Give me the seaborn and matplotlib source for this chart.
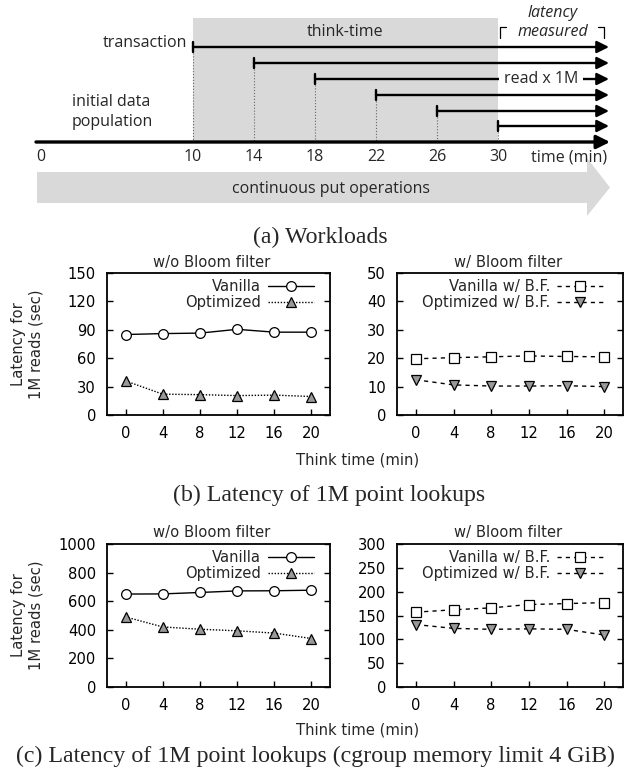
import matplotlib
matplotlib.use("Agg")
import matplotlib.pyplot as plt
from matplotlib.patches import Rectangle
import seaborn as sns
import pandas as pd

# ---- data ----
think_time = [0, 4, 8, 12, 16, 20]

# (b) latency of 1M point lookups (sec)
b_vanilla = [85, 86, 86.5, 90.5, 87.5, 87.5]
b_optimized = [36, 22, 21.5, 20.5, 21, 19.5]
b_vanilla_bf = [19.8, 20.2, 20.5, 20.8, 20.6, 20.5]
b_optimized_bf = [12.4, 10.6, 10.2, 10.2, 10.3, 10.0]

# (c) same, cgroup memory limit 4 GiB
c_vanilla = [650, 651, 661, 672, 673, 677]
c_optimized = [490, 420, 404, 393, 377, 339]
c_vanilla_bf = [157, 162, 166, 173, 175, 177]
c_optimized_bf = [131, 123, 121, 122, 121, 109]

# workload timeline (min)
txn_starts = [10, 14, 18, 22, 26, 30]
time_ticks = [0, 10, 14, 18, 22, 26, 30]

sns.set_theme(style="ticks")
plt.rcParams['font.family'] = ['DejaVu Sans']

W, H = 635, 775
FS = 10.6
DIAG_FONT = ['Open Sans', 'DejaVu Sans']
CAP_FONT = ['Liberation Serif', 'DejaVu Serif']
CAP_FS = 17.2


def fx(px):
    return px / W


def fy(py):
    return 1 - py / H


def box(l, t, r, b):
    return [l / W, 1 - b / H, (r - l) / W, (b - t) / H]


fig = plt.figure(figsize=(W / 100, H / 100), dpi=100)

# ================= (a) workloads diagram =================
X0, PPM = 40.5, 15.25  # pixel of t=0, pixels per minute
TIP = 609


def tm(px):
    return (px - X0) / PPM


ax0 = fig.add_axes([0, 1 - 225 / H, 1, 225 / H])
ax0.set_xlim(tm(0), tm(W))
ax0.set_ylim(225, 0)
ax0.axis('off')

# think-time shading
ax0.add_patch(Rectangle((txn_starts[0], 18), txn_starts[-1] - txn_starts[0], 124,
                        fc='#d9d9d9', ec='none', zorder=0))

# continuous put operations arrow
ax0.fill([tm(37), tm(587), tm(587), tm(610), tm(587), tm(587), tm(37)],
         [172, 172, 158, 187.5, 216, 203, 203], color='#d9d9d9', lw=0, zorder=0)
ax0.text(tm(331), 189, 'continuous put operations', ha='center', va='center',
         family=DIAG_FONT, fontsize=11.5)

# main time axis
ax0.annotate('', xy=(tm(TIP + 1), 142), xytext=(tm(36), 142),
             arrowprops=dict(arrowstyle='-|>', lw=2.4, color='black',
                             mutation_scale=20, shrinkA=0, shrinkB=0))
for t in time_ticks:
    ax0.text(t, 157, str(t), ha='center', va='center', family=DIAG_FONT, fontsize=11.5)
ax0.text(tm(531), 157, 'time (min)', ha='left', va='center', family=DIAG_FONT, fontsize=11.5)

# transactions
row_y = [47, 63, 79, 95, 111, 126]
for s, y in zip(txn_starts, row_y):
    ax0.plot([s, s], [y, 142], color='#666666', lw=0.8, ls=':', zorder=1)
    ax0.annotate('', xy=(tm(TIP), y), xytext=(s, y),
                 arrowprops=dict(arrowstyle='-|>', lw=1.7, color='black',
                                 mutation_scale=18, shrinkA=0, shrinkB=0), zorder=2)
    ax0.plot([s, s], [y - 5, y + 5], color='black', lw=1.7, zorder=2)

ax0.text(tm(187), 43, 'transaction', ha='right', va='center', family=DIAG_FONT, fontsize=11.5)
ax0.text(tm(541), 79, 'read x 1M', ha='center', va='center', family=DIAG_FONT, fontsize=11.5,
         zorder=3, bbox=dict(fc='white', ec='none', boxstyle='square,pad=0.3'))
ax0.text(20, 32, 'think-time', ha='center', va='center', family=DIAG_FONT, fontsize=11.5)
ax0.text(tm(72), 112, 'initial data\npopulation', ha='left', va='center',
         family=DIAG_FONT, fontsize=11.5, linespacing=1.35)
ax0.text(tm(553), 13, 'latency', ha='center', va='center', family=DIAG_FONT,
         fontsize=11.5, style='italic')
ax0.text(tm(553), 32, 'measured', ha='center', va='center', family=DIAG_FONT,
         fontsize=11.5, style='italic')
ax0.plot([tm(500), tm(500), tm(506)], [38, 27, 27], color='black', lw=0.9)
ax0.plot([tm(598), tm(604), tm(604)], [27, 27, 38], color='black', lw=0.9)

fig.text(fx(320), fy(237), '(a) Workloads', ha='center', va='center',
         family=CAP_FONT, fontsize=CAP_FS)


# ================= line plots =================
def style_axes(ax, ymax, ystep):
    ax.set_xlim(-2, 22)
    ax.set_ylim(0, ymax)
    ax.set_xticks(think_time)
    ax.set_yticks(range(0, ymax + 1, ystep))
    ax.set_xlabel('')
    ax.set_ylabel('')
    for sp in ax.spines.values():
        sp.set_visible(True)
        sp.set_color('black')
        sp.set_linewidth(1.3)
    ax.tick_params(direction='in', length=4, width=1, colors='black',
                   labelsize=FS, right=True, top=False)
    ax.tick_params(axis='y', pad=8)
    ax.tick_params(axis='x', pad=8)
    ax.grid(False)


def left_panel(ax, vanilla, optimized, ymax, ystep):
    df = pd.DataFrame({'think': think_time, 'Vanilla': vanilla, 'Optimized': optimized})
    sns.lineplot(data=df, x='think', y='Vanilla', ax=ax, color='black', lw=1.0,
                 marker='o', ms=7, mfc='white', mec='black', mew=0.9, label='Vanilla')
    sns.lineplot(data=df, x='think', y='Optimized', ax=ax, color='black', lw=1.0,
                 linestyle=(0, (1, 1.2)), marker='^', ms=7, mfc='#999999',
                 mec='black', mew=0.9, label='Optimized')
    style_axes(ax, ymax, ystep)
    ax.legend(loc='upper right', bbox_to_anchor=(1 - 16 / 223, 1 - 6 / 142),
              frameon=False, markerfirst=False, fontsize=FS, handlelength=3.1,
              handletextpad=0.5, labelspacing=0.08, borderpad=0, borderaxespad=0)


def right_panel(ax, vanilla, optimized, ymax, ystep):
    df = pd.DataFrame({'think': think_time, 'Vanilla': vanilla, 'Optimized': optimized})
    sns.lineplot(data=df, x='think', y='Vanilla', ax=ax, color='black', lw=1.0,
                 linestyle=(0, (3, 3)), marker='s', ms=6.5, mfc='white',
                 mec='black', mew=0.9, label='Vanilla w/ B.F.')
    sns.lineplot(data=df, x='think', y='Optimized', ax=ax, color='black', lw=1.0,
                 linestyle=(0, (3, 3)), marker='v', ms=7, mfc='#999999',
                 mec='black', mew=0.9, label='Optimized w/ B.F.')
    style_axes(ax, ymax, ystep)
    ax.legend(loc='upper right', bbox_to_anchor=(1 - 20 / 226, 1 - 6 / 142),
              frameon=False, markerfirst=False, fontsize=FS, handlelength=3.1,
              handletextpad=0.5, labelspacing=0.08, borderpad=0, borderaxespad=0)


def panel_row(top, bottom, lv, lo, lmax, lstep, rv, ro, rmax, rstep, xlab_y):
    axl = fig.add_axes(box(107, top, 330, bottom))
    axr = fig.add_axes(box(397, top, 623, bottom))
    left_panel(axl, lv, lo, lmax, lstep)
    right_panel(axr, rv, ro, rmax, rstep)
    fig.text(fx(212), fy(top - 11), 'w/o Bloom filter', ha='center', va='center', fontsize=FS)
    fig.text(fx(508), fy(top - 11), 'w/ Bloom filter', ha='center', va='center', fontsize=FS)
    fig.text(fx(27), fy((top + bottom) / 2), 'Latency for\n1M reads (sec)', rotation=90,
             ha='center', va='center', fontsize=FS, linespacing=1.2)
    fig.text(fx(358), fy(xlab_y), 'Think time (min)', ha='center', va='center', fontsize=FS)


panel_row(273, 415, b_vanilla, b_optimized, 150, 30,
          b_vanilla_bf, b_optimized_bf, 50, 10, 460)
fig.text(fx(329), fy(495), '(b) Latency of 1M point lookups', ha='center', va='center',
         family=CAP_FONT, fontsize=CAP_FS)

panel_row(544, 687, c_vanilla, c_optimized, 1000, 200,
          c_vanilla_bf, c_optimized_bf, 300, 50, 730)
fig.text(fx(315), fy(756), '(c) Latency of 1M point lookups (cgroup memory limit 4 GiB)',
         ha='center', va='center', family=CAP_FONT, fontsize=CAP_FS)

fig.savefig('out.png', dpi=100)
